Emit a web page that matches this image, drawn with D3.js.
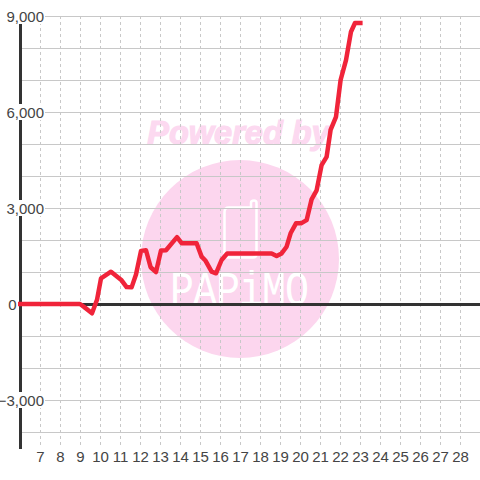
<!DOCTYPE html>
<html><head><meta charset="utf-8">
<script src="https://cdn.jsdelivr.net/npm/d3@7/dist/d3.min.js"></script>
<style>html,body{margin:0;padding:0;background:#fff}svg{display:block}</style>
</head><body><svg id="c" width="480" height="480"></svg>
<script>
const xTickValues = [7,8,9,10,11,12,13,14,15,16,17,18,19,20,21,22,23,24,25,26,27,28];
const yLabelValues = [9000,6000,3000,0,-3000];
const yGridValues = [9000,8000,7000,6000,5000,4000,3000,2000,1000,-1000,-2000,-3000,-4000];
const hours = [5.9,9,9.2,9.6,9.85,10.05,10.55,11.08,11.33,11.58,11.8,12.05,12.3,12.53,12.8,13.05,13.3,13.85,14.08,14.83,15.08,15.28,15.58,15.8,16.08,16.36,18.58,18.83,19.08,19.33,19.53,19.8,20.05,20.33,20.58,20.83,21.08,21.33,21.53,21.8,22.03,22.3,22.55,22.75,23.13];
const values = [0,0,-90,-290,130,800,1010,740,530,520,920,1660,1680,1150,1000,1670,1680,2090,1900,1900,1480,1350,1010,960,1375,1580,1580,1500,1580,1790,2210,2520,2520,2620,3270,3550,4340,4600,5440,5850,7000,7620,8510,8780,8780];

const svg = d3.select('#c');
const x = d3.scaleLinear().domain([6,28]).range([20,460]);
const y = d3.scaleLinear().domain([-4000,9000]).range([432,16]);
const axisBottomY = 449, axisTopY = 16, rightX = 480;

// watermark
const wm = svg.append('g');
wm.append('circle').attr('cx',240).attr('cy',259).attr('r',99).attr('fill','#fcd6ee');
wm.append('text').text('Powered by').attr('x',238.5).attr('y',144)
  .attr('text-anchor','middle').attr('font-family','"Liberation Sans"').attr('font-weight','bold')
  .attr('font-style','italic').attr('font-size',32.5).attr('fill','#fcd9f0').attr('stroke','#fcd9f0').attr('stroke-width',1.2);
wm.append('path').attr('d','M229 207.5 H251 V203 Q251 200.5 254 200.5 Q256.5 200.5 256.5 203 V254 Q256.5 257.5 253 257.5 H229 Q224.5 257.5 224.5 253 V212 Q224.5 207.5 229 207.5 Z')
  .attr('fill','none').attr('stroke','#fff').attr('stroke-width',2.5);
wm.append('text').text('PAPiMO').attr('transform','translate(170,305) scale(1,1.2)')
  .attr('textLength',139).attr('lengthAdjust','spacing')
  .attr('font-family','"Liberation Mono"').attr('font-size',40).attr('fill','#fff');

// vertical dashed grid + bottom labels
const xAxis = d3.axisBottom(x).tickValues(xTickValues).tickSize(axisBottomY-axisTopY-3).tickPadding(5).tickFormat(d3.format('d'));
const gx = svg.append('g').attr('transform',`translate(0,${axisTopY})`).call(xAxis);
gx.select('.domain').remove();
gx.selectAll('line').attr('stroke','#c8c8c8').attr('stroke-dasharray','3,3');
gx.selectAll('text').attr('font-family','"Liberation Sans"').attr('font-size',15).attr('fill','#444');

// horizontal grid
const yAxis = d3.axisRight(y).tickValues(yGridValues).tickSize(rightX-20).tickFormat('');
const gy = svg.append('g').attr('transform','translate(20,0)').call(yAxis);
gy.select('.domain').remove();
gy.selectAll('line').attr('stroke','#c8c8c8').attr('stroke-width',1);

// zero line and vertical axis
svg.append('line').attr('x1',20).attr('x2',rightX).attr('y1',y(0)+0.5).attr('y2',y(0)+0.5).attr('stroke','#333').attr('stroke-width',3);
svg.append('line').attr('x1',20.5).attr('x2',20.5).attr('y1',axisTopY).attr('y2',axisBottomY).attr('stroke','#333').attr('stroke-width',3);

// y labels with white backing
const labels = svg.append('g');
yLabelValues.forEach(v=>{
  const rightEdge = v===0 ? 16.5 : 44;
  const t = labels.append('text').text(d3.format(',')(v)).attr('x',rightEdge).attr('y',y(v)+5.5)
    .attr('text-anchor','end').attr('font-family','"Liberation Sans"').attr('font-size',15).attr('fill','#444');
  const b = t.node().getBBox();
  if(v!==0){
    labels.insert('rect','text').attr('x',b.x).attr('y',y(v)-8).attr('width',b.width+1).attr('height',16).attr('fill','#fff');
  }
});

// series
svg.append('path').datum(hours.map((h,i)=>[h,values[i]]))
  .attr('d',d3.line().x(d=>x(d[0])).y(d=>y(d[1])))
  .attr('fill','none').attr('stroke','#f0243a').attr('stroke-width',4.5).attr('stroke-linejoin','round');
</script></body></html>
